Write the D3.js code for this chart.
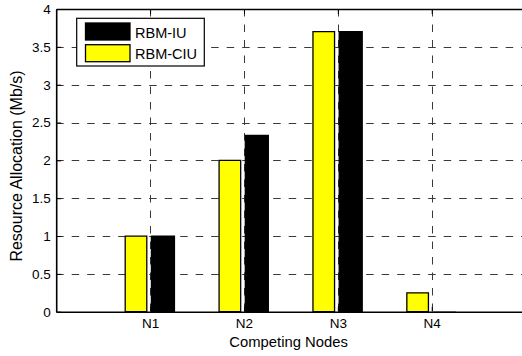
<!DOCTYPE html>
<html>
<head>
<meta charset="utf-8">
<script src="https://cdn.jsdelivr.net/npm/d3@7"></script>
<style>
  html, body { margin: 0; padding: 0; background: #fff; }
  svg { display: block; }
  text { font-family: "Liberation Sans", Arial, Helvetica, sans-serif; fill: #000; }
</style>
</head>
<body>
<svg id="chart" width="522" height="356"></svg>
<script>
// Resource allocation per competing node
const nodes = ["N1", "N2", "N3", "N4"];
const rbmIU = [1, 2.33, 3.7, 0];
const rbmCIU = [1, 2, 3.7, 0.25];
const yTicks = [0, 0.5, 1, 1.5, 2, 2.5, 3, 3.5, 4];
const seriesNames = ["RBM-IU", "RBM-CIU"];
const seriesColors = ["#000000", "#ffff00"];

const svg = d3.select("#chart");
const plotLeft = 56.2, plotTop = 9, plotBottom = 311.7, plotRight = 525.6;

// x runs over node index 0..5 so the nodes sit at 1..4
const x = d3.scaleLinear().domain([0, 5]).range([plotLeft, plotRight]);
const y = d3.scaleLinear().domain([0, 4]).range([plotBottom, plotTop]);

// grid
const grid = svg.append("g").attr("stroke", "#3a3a3a").attr("stroke-width", 1)
  .attr("stroke-dasharray", "7.5,8");
grid.selectAll("line.h").data(yTicks.filter(t => t > 0 && t < 4)).join("line")
  .attr("class", "h")
  .attr("x1", plotLeft).attr("x2", plotRight)
  .attr("y1", d => Math.round(y(d)) + 0.5).attr("y2", d => Math.round(y(d)) + 0.5);
grid.selectAll("line.v").data(nodes).join("line")
  .attr("class", "v")
  .attr("x1", (d, i) => Math.round(x(i + 1)) + 0.5).attr("x2", (d, i) => Math.round(x(i + 1)) + 0.5)
  .attr("y1", plotTop).attr("y2", plotBottom);

// bars: each drawn as a closed path so a zero value still shows its edge
function barPath(cx, w, v) {
  const x0 = x(cx - w / 2), x1 = x(cx + w / 2);
  return `M${x0},${y(0)}V${y(v)}H${x1}V${y(0)}Z`;
}
const bars = svg.append("g");
bars.selectAll("path.ciu").data(rbmCIU).join("path")
  .attr("class", "ciu")
  .attr("d", (v, i) => barPath(i + 1 - 0.15, 0.23, v))
  .attr("fill", seriesColors[1]).attr("stroke", "#000").attr("stroke-width", 1.3);
bars.selectAll("path.iu").data(rbmIU).join("path")
  .attr("class", "iu")
  .attr("d", (v, i) => barPath(i + 1 + 0.137, 0.245, v))
  .attr("fill", seriesColors[0]).attr("stroke", v => v === 0 ? "#999" : "#000").attr("stroke-width", 1.3);

// axes
const xAxisBottom = d3.axisBottom(x).tickValues([1, 2, 3, 4])
  .tickFormat(d => nodes[d - 1]).tickSizeInner(-5).tickSizeOuter(0).tickPadding(6.5);
const xAxisTop = d3.axisTop(x).tickValues([1, 2, 3, 4])
  .tickFormat("").tickSizeInner(-5).tickSizeOuter(0);
const yAxisLeft = d3.axisLeft(y).tickValues(yTicks)
  .tickFormat(d3.format("")).tickSizeInner(-5).tickSizeOuter(0).tickPadding(5.5);

const gxb = svg.append("g").attr("transform", `translate(0,${plotBottom})`).call(xAxisBottom);
const gxt = svg.append("g").attr("transform", `translate(0,${plotTop})`).call(xAxisTop);
const gyl = svg.append("g").attr("transform", `translate(${plotLeft},0)`).call(yAxisLeft);

[gxb, gxt, gyl].forEach(g => {
  g.selectAll(".domain").attr("stroke", "#000").attr("stroke-width", 1.6);
  g.selectAll(".tick line").attr("stroke", "#000").attr("stroke-width", 1);
  g.selectAll("text").attr("font-size", 13.5).attr("font-family", "'Liberation Sans', Arial, sans-serif").attr("fill", "#000");
});
gxt.select(".domain").attr("stroke-width", 1.3);

// axis titles
svg.append("text").attr("x", (plotLeft + 522) / 2 - 0.5).attr("y", 346.5)
  .attr("text-anchor", "middle").attr("font-size", 14.8).text("Competing Nodes");
svg.append("text")
  .attr("transform", `translate(22,166) rotate(-90)`)
  .attr("text-anchor", "middle").attr("font-size", 16).text("Resource Allocation (Mb/s)");

// legend
const lg = svg.append("g");
lg.append("rect").attr("x", 76.7).attr("y", 18.3).attr("width", 127.6).attr("height", 47.7)
  .attr("fill", "#fff").attr("stroke", "#000").attr("stroke-width", 1.2);
seriesNames.forEach((name, i) => {
  const ry = 23 + i * 21.7;
  lg.append("rect").attr("x", 85.5).attr("y", ry).attr("width", 44.5).attr("height", 17)
    .attr("fill", seriesColors[i]).attr("stroke", "#000").attr("stroke-width", 1.3);
  lg.append("text").attr("x", 135).attr("y", ry + 14.5).attr("font-size", 14.5).text(name);
});
</script>
</body>
</html>
